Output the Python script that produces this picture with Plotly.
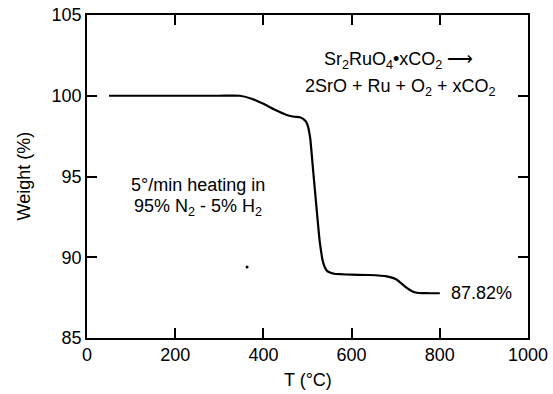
import plotly.graph_objects as go

# Data
temperature_c = [50, 100, 200, 300, 347, 375, 400, 425, 453, 470, 483, 495, 500, 506,
                 513, 521, 528, 536, 543, 551, 560, 574, 600, 640, 680, 700, 712, 725,
                 737, 748, 760, 780, 800]
weight_pct = [100, 100, 100, 100, 100, 99.8, 99.5, 99.15, 98.81, 98.7, 98.67, 98.45, 98.2,
              97.4, 95.3, 92.9, 90.9, 89.62, 89.2, 89.05, 88.98, 88.95, 88.92, 88.9, 88.82,
              88.65, 88.4, 88.1, 87.9, 87.8, 87.78, 87.77, 87.77]
speck_t = [363]
speck_w = [89.4]

x_ticks = [0, 200, 400, 600, 800, 1000]
y_ticks = [85, 90, 95, 100, 105]

FONT = "Liberation Sans, Arial, Helvetica, sans-serif"

fig = go.Figure()
fig.add_trace(go.Scatter(x=temperature_c, y=weight_pct, mode="lines",
                         line=dict(color="black", width=2.2, shape="spline", smoothing=0.5),
                         showlegend=False, hoverinfo="skip"))
fig.add_trace(go.Scatter(x=speck_t, y=speck_w, mode="markers",
                         marker=dict(color="black", size=3), showlegend=False,
                         hoverinfo="skip"))

axis_common = dict(showline=True, linecolor="black", linewidth=1.5, mirror="ticks",
                   ticks="inside", ticklen=10, tickwidth=1.5, tickcolor="black",
                   showgrid=False, zeroline=False, automargin=False,
                   tickfont=dict(family=FONT, size=18, color="black"))

fig.update_xaxes(range=[0, 1000], tickvals=x_ticks, ticktext=[str(v) for v in x_ticks],
                 **axis_common)
fig.update_yaxes(range=[85, 105], tickvals=y_ticks, ticktext=[str(v) for v in y_ticks],
                 **axis_common)

annots = [
    dict(x=707, y=102.18, text="Sr<sub>2</sub>RuO<sub>4</sub>•xCO<sub>2</sub> ⟶",
         xanchor="center", yanchor="middle"),
    dict(x=710, y=100.53, text="2SrO + Ru + O<sub>2</sub> + xCO<sub>2</sub>",
         xanchor="center", yanchor="middle"),
    dict(x=252, y=94.45, text="5°/min heating in", xanchor="center", yanchor="middle"),
    dict(x=252, y=93.11, text="95% N<sub>2</sub> - 5% H<sub>2</sub>",
         xanchor="center", yanchor="middle"),
    dict(x=821, y=87.76, text="87.82%", xanchor="left", yanchor="middle"),
]
for a in annots:
    fig.add_annotation(xref="x", yref="y", showarrow=False,
                       font=dict(family=FONT, size=18, color="black"), **a)

fig.add_annotation(xref="paper", yref="paper", x=0, y=0.5, xshift=-64, text="Weight (%)",
                   textangle=-90, showarrow=False, xanchor="center", yanchor="middle",
                   font=dict(family=FONT, size=18, color="black"))
fig.add_annotation(xref="paper", yref="paper", x=0.5, y=0, yshift=-42, text="T (°C)",
                   showarrow=False, xanchor="center", yanchor="middle",
                   font=dict(family=FONT, size=18, color="black"))

fig.update_layout(width=553, height=394, margin=dict(l=87, r=25, t=15, b=56),
                  paper_bgcolor="white", plot_bgcolor="white")

fig.write_html("out.html", config={"displayModeBar": False},
               post_script="document.body.style.margin='0';document.body.style.overflow='hidden';")
